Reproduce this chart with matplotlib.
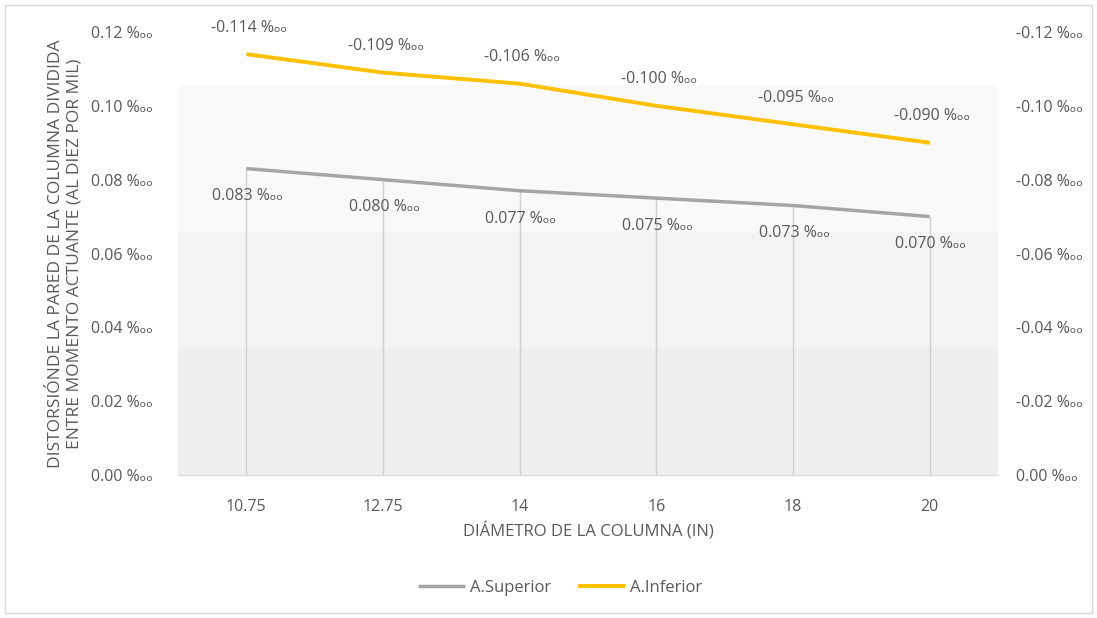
import matplotlib
matplotlib.use("Agg")
import matplotlib.pyplot as plt
from matplotlib.patches import Rectangle
from matplotlib.ticker import FixedLocator, FuncFormatter

categories = ["10.75", "12.75", "14", "16", "18", "20"]
superior = [0.083, 0.080, 0.077, 0.075, 0.073, 0.070]
inferior = [-0.114, -0.109, -0.106, -0.100, -0.095, -0.090]
left_ticks = [0.00, 0.02, 0.04, 0.06, 0.08, 0.10, 0.12]
right_ticks = [0.00, -0.02, -0.04, -0.06, -0.08, -0.10, -0.12]

TXT = "#595959"
GRAY = "#a5a5a5"
YELLOW = "#ffc000"
SUF = " %ₒₒ"

plt.rcParams['font.family'] = ['Open Sans', 'DejaVu Sans']

fig = plt.figure(figsize=(10.97, 6.18), dpi=100)
fig.patches.append(Rectangle((0.005, 0.008), 0.99, 0.984, transform=fig.transFigure,
                             fill=False, edgecolor="#d9d9d9", linewidth=1.0))
ax = fig.add_axes([178/1097, 1-475/618, 820/1097, 443/618])
ax.set_facecolor("white")
# background bands
for y0, y1, c in [(0.0, 0.289, "#efefef"), (0.289, 0.549, "#f4f4f4"), (0.549, 0.880, "#f9f9f9")]:
    ax.add_patch(Rectangle((0, y0), 1, y1 - y0, transform=ax.transAxes,
                           facecolor=c, edgecolor="none", zorder=0))

x = list(range(len(categories)))
ax.set_xlim(-0.5, len(categories) - 0.5)
ax.set_ylim(0, 0.12)

# drop lines
for xi, v in zip(x, superior):
    ax.plot([xi, xi], [0, v], color="#d0d0d0", linewidth=1.0, zorder=1)

l1, = ax.plot(x, superior, color=GRAY, linewidth=2.5, zorder=3, label="A.Superior",
              solid_capstyle="butt")
for xi, v in zip(x, superior):
    ax.annotate(f"{v:.3f}{SUF}", (xi, v), xytext=(1, -20), textcoords="offset points",
                ha="center", va="center", fontsize=11.5, color=TXT)

ax2 = ax.twinx()
ax2.set_ylim(0, -0.12)
l2, = ax2.plot(x, inferior, color=YELLOW, linewidth=2.8, zorder=3, label="A.Inferior",
               solid_capstyle="butt")
for xi, v in zip(x, inferior):
    ax2.annotate(f"{v:.3f}{SUF}", (xi, v), xytext=(2, 19), textcoords="offset points",
                 ha="center", va="center", fontsize=11.5, color=TXT)

ax.set_xticks(x)
ax.set_xticklabels(categories)
ax.yaxis.set_major_locator(FixedLocator(left_ticks))
ax.yaxis.set_major_formatter(FuncFormatter(lambda v, p: f"{abs(v):.2f}{SUF}"))
ax2.yaxis.set_major_locator(FixedLocator(right_ticks))
ax2.yaxis.set_major_formatter(FuncFormatter(
    lambda v, p: (f"{v:.2f}{SUF}" if abs(v) > 1e-9 else f"0.00{SUF}")))

for a in (ax, ax2):
    for s in a.spines.values():
        s.set_visible(False)
    a.tick_params(length=0, colors=TXT, labelsize=11.5)
ax.spines['bottom'].set_visible(True)
ax.spines['bottom'].set_color("#d9d9d9")
ax.tick_params(axis='x', pad=17)
ax.tick_params(axis='y', pad=18)
ax2.tick_params(axis='y', pad=13)

ax.set_xlabel("DIÁMETRO DE LA COLUMNA (IN)", fontsize=12, color=TXT, labelpad=6)
ax.set_ylabel("DISTORSIÓNDE LA PARED DE LA COLUMNA DIVIDIDA\nENTRE MOMENTO ACTUANTE (AL DIEZ POR MIL)",
              fontsize=12.5, color=TXT, labelpad=6, linespacing=1.25)

fig.legend(handles=[l1, l2], loc="center", bbox_to_anchor=(560/1097, 1-588/618), ncol=2,
           frameon=False, fontsize=12, labelcolor=TXT, handlelength=2.8, columnspacing=1.6,
           handletextpad=0.3)

fig.savefig("out.png", dpi=100)
